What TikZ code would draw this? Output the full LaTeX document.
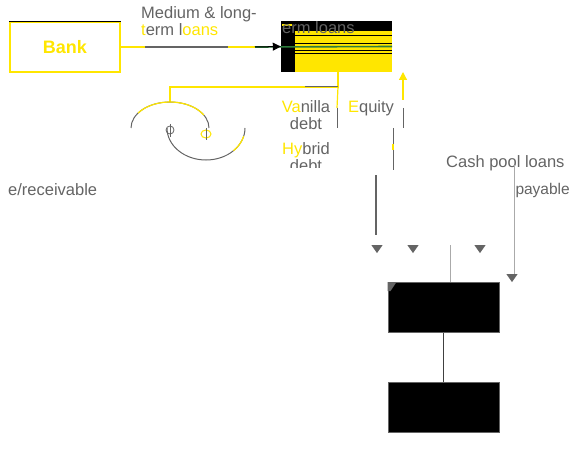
\documentclass[tikz,border=0pt]{standalone}
\usepackage{fontspec}
\setmainfont{Liberation Sans}
\usetikzlibrary{positioning,arrows.meta,shapes.geometric}
\definecolor{eyyellow}{RGB}{255,230,0}
\definecolor{eygray}{RGB}{100,100,100}
\definecolor{eylight}{RGB}{170,170,170}
\definecolor{eygreen}{RGB}{45,125,60}

\begin{document}
\begin{tikzpicture}[x=1pt,y=-1pt,
    every node/.style={inner sep=0pt,text=eygray,font=\fontsize{16.5}{17}\selectfont},
    entity/.style={draw=eyyellow,line width=1.2pt,minimum width=110pt,minimum height=50pt},
    blackbox/.style={fill=black,draw=eygray,line width=1pt,minimum width=111pt,minimum height=50pt},
    tri/.style={isosceles triangle,isosceles triangle apex angle=70,shape border rotate=-90,
      fill=eygray,minimum width=9pt,minimum height=8pt},
    gline/.style={eygray,line width=1pt},
    yline/.style={eyyellow,line width=1.2pt}]

  \useasboundingbox (0,0) rectangle (571,452);

  % top row
  \node[entity] (bank) at (65,47) {};
  \node[text=eyyellow,font=\fontsize{18}{18}\selectfont\bfseries] (banklabel) at (bank) {Bank};
  \draw[black,line width=1.2pt] (bank.north west) -- (bank.north east);

  \node[fill=eyyellow,minimum width=111pt,minimum height=51pt] (term) at (336.5,46.5) {};
  \fill[black] (term.north west) rectangle ++(14,51);
  \fill[black] (term.north west) rectangle ++(111,10);
  \fill[eyyellow] (282,24) rectangle (292,26);
  \draw[black,line width=0.8pt] (295,35) -- (392,35);
  \draw[black,line width=0.8pt] (295,43) -- (392,43);
  \draw[black,line width=0.8pt] (295,50) -- (392,50);
  \draw[black,line width=0.8pt] (295,53) -- (392,53);
  \node[anchor=west] (termlabel) at (282,28) {erm loans};

  \coordinate (g1) at (145,47);
  \coordinate (g2) at (228,47);
  \coordinate (g3) at (255,47);
  \draw[yline] (bank.east) -- (g3);
  \draw[gline,line width=1.4pt] (g1) -- (g2);
  \draw[eygreen,line width=1.6pt] (g3) -- (term.east);
  \draw[black,line width=1pt,-{Triangle[length=8pt,width=8pt]}] (g3) -- (term.west);
  \node[align=left] (loanlabel) at (199,21) {Medium \& long-\\\textcolor{eyyellow}{t}erm l\textcolor{eyyellow}{oans}};

  % links under the loan box
  \coordinate (t1) at (338,72);
  \coordinate (t2) at (338,87);
  \coordinate (t3) at (170,87);
  \coordinate (t4) at (170,102);
  \coordinate (t5) at (305,87);
  \draw[yline] (t1) -- (t2) -- (t3) -- (t4);
  \draw[gline] (t5) -- (t2);

  \coordinate (v1) at (337,108);
  \coordinate (v2) at (337,128);
  \coordinate (e1) at (403,100);
  \coordinate (e2) at (403,72);
  \coordinate (e3) at (403,108);
  \coordinate (e4) at (403,128);
  \draw[yline] (t2) -- (v1);
  \draw[gline] (v1) -- (v2);
  \draw[yline,-{Triangle[length=8pt,width=8pt]}] (e1) -- (e2);
  \draw[gline] (e3) -- (e4);

  % swirl
  \draw[gline] (131,128) arc[start angle=180,end angle=360,x radius=39,y radius=26];
  \draw[yline] (170,128) ++(215:39 and 26) arc[start angle=215,end angle=330,x radius=39,y radius=26];
  \draw[gline] (167,128) arc[start angle=180,end angle=0,x radius=39,y radius=32];
  \draw[yline] (206,128) ++(45:39 and 32) arc[start angle=45,end angle=15,x radius=39,y radius=32];
  \draw[gline,line width=0.8pt] (170,130) circle[radius=4];
  \draw[gline,line width=0.8pt] (170,124) -- (170,137);
  \draw[yline,line width=1pt] (206,134) circle[x radius=5,y radius=4];
  \draw[gline,line width=0.8pt] (206,128) -- (206,140);

  \node (vanilla) at (306,115) [align=center] {\textcolor{eyyellow}{Va}nilla\\debt};
  \node (equity) at (371,108) {\textcolor{eyyellow}{E}quity};
  \begin{scope}
    \clip (270,135) rectangle (345,167);
    \node (hybrid) at (306,157) [align=center] {\textcolor{eyyellow}{Hy}brid\\debt};
  \end{scope}

  \coordinate (h1) at (393,128);
  \coordinate (h2) at (393,144);
  \coordinate (h3) at (393,150);
  \coordinate (h4) at (393,170);
  \draw[gline] (h1) -- (h2);
  \draw[yline] (h2) -- (h3);
  \draw[gline] (h3) -- (h4);

  % side labels
  \node[anchor=west] (cashpool) at (446,163) {Cash pool loans};
  \node[anchor=east,font=\fontsize{15.5}{16}\selectfont] (payable) at (570,190) {payable};
  \node[anchor=west] (receivable) at (8,190) {e/receivable};

  % arrowheads towards the entities
  \node[tri] (a1) at (377,248) {};
  \node[tri] (a2) at (413,248) {};
  \node[tri] (a3) at (480,248) {};
  \node[tri] (a4) at (512,277) {};

  \coordinate (s1) at (376,175);
  \coordinate (s2) at (376,235);
  \draw[gline,line width=1.2pt] (s1) -- (s2);
  \coordinate (c1) at (514,165);
  \draw[eylight,line width=1pt] (c1) -- (a4.north -| c1);

  \node[blackbox] (entity1) at (443.5,307.5) {};
  \node[blackbox] (entity2) at (443.5,407.5) {};
  \fill[eygray] (entity1.north west) -- ++(9,0) -- ++(-6,9) -- ++(-3,0) -- cycle;
  \coordinate (p1) at (450,245);
  \draw[eylight,line width=1pt] (p1) -- (p1 |- entity1.north);
  \draw[black!75,line width=1.4pt] (entity1) -- (entity2);

\end{tikzpicture}
\end{document}
